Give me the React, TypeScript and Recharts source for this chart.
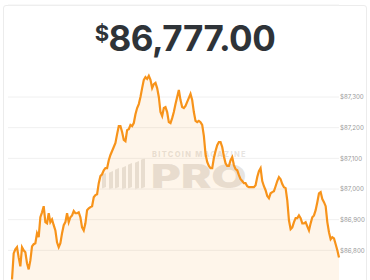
import { Area, AreaChart, CartesianGrid, XAxis, YAxis } from 'recharts'

const lastPrice = '86,777.00'
const priceTicks = [86700, 86800, 86900, 87000, 87100, 87200, 87300]

// BTC price, roughly one point every few minutes
const prices = [
  86705, 86790, 86803, 86810, 86777, 86748, 86810, 86800, 86794, 86758,
  86738, 86767, 86813, 86820, 86823, 86856, 86843, 86908, 86924, 86944,
  86892, 86888, 86921, 86892, 86901, 86882, 86865, 86826, 86810, 86823,
  86856, 86882, 86892, 86921, 86892, 86908, 86914, 86928, 86921, 86921,
  86924, 86908, 86875, 86865, 86888, 86931, 86937, 86941, 86944, 86973,
  86980, 86983, 87019,
  87042, 87048, 87061, 87068, 87068, 87094, 87111, 87124, 87137, 87150,
  87179, 87205, 87205, 87186, 87160, 87156, 87192, 87195, 87209, 87205,
  87215, 87244, 87264, 87277, 87300, 87329, 87356, 87365, 87359, 87369,
  87356, 87329, 87342, 87346, 87329, 87300, 87251, 87238, 87264, 87267,
  87251, 87218, 87215, 87231, 87251, 87277, 87300, 87323, 87290,
  87267, 87264, 87271, 87284, 87297, 87310, 87290, 87251, 87222, 87218,
  87222, 87218, 87209, 87173, 87114, 87088, 87075, 87068, 87068, 87101,
  87124, 87143, 87153, 87153, 87137, 87107, 87084, 87075, 87075, 87094,
  87104, 87078, 87065, 87061, 87045, 87032, 87026, 87019, 87019, 87009,
  87006, 87006, 87006, 87006, 87012, 87039, 87058, 87068,
  87026, 87009, 86996, 86977, 86970, 86986, 86990, 86993, 87009, 87026,
  87039, 87032, 87016, 87006, 87003, 86963, 86898, 86869, 86875, 86892,
  86905, 86905, 86914, 86905, 86888, 86888, 86892, 86878, 86865, 86888,
  86908, 86914, 86931, 86957, 86986, 86990, 86967, 86957, 86944, 86892,
  86859, 86836, 86843, 86839, 86820, 86800, 86777,
]

const data = prices.map((price, i) => ({ i, price }))

const fmt = (v: number) => '$' + v.toLocaleString('en-US')

const wm = 'rgba(170, 160, 150, 0.28)'

export default function App() {
  return (
    <div
      style={{
        position: 'fixed',
        left: 0,
        top: 0,
        width: 370,
        height: 280,
        overflow: 'hidden',
        background: '#fff',
        fontFamily: 'Inter, Arial, sans-serif',
      }}
    >
      {/* card outline */}
      <div
        style={{
          position: 'absolute',
          left: 3,
          top: 5,
          width: 362,
          height: 300,
          border: '1px solid #ececec',
          borderRadius: 3,
        }}
      />

      {/* watermark, sits under the chart */}
      <div style={{ position: 'absolute', left: 102, top: 160 }}>
        {[0, 1, 2, 3, 4, 5, 6].map((k) => (
          <div
            key={k}
            style={{
              position: 'absolute',
              left: k * 6.5,
              top: 14 - k * 2.5,
              width: 3.5,
              height: 14 + k * 2.5,
              background: wm,
              transform: 'skewY(-25deg)',
            }}
          />
        ))}
      </div>
      <div
        style={{
          position: 'absolute',
          left: 152,
          top: 151,
          fontSize: 7.5,
          lineHeight: '8px',
          fontWeight: 800,
          letterSpacing: 1.3,
          color: wm,
          whiteSpace: 'nowrap',
        }}
      >
        BITCOIN MAGAZINE
      </div>
      <div
        style={{
          position: 'absolute',
          left: 151,
          top: 164,
          fontSize: 33,
          lineHeight: '24px',
          fontWeight: 900,
          color: wm,
          transform: 'scaleX(1.38)',
          transformOrigin: 'left center',
        }}
      >
        PRO
      </div>

      <div style={{ position: 'absolute', left: 0, top: 0 }}>
        <AreaChart
          width={370}
          height={281}
          data={data}
          margin={{ top: 5, right: 0, bottom: 0, left: 8 }}
        >
          <CartesianGrid vertical={false} stroke="#f0f0f0" />
          <XAxis dataKey="i" hide padding={{ left: 4, right: 0 }} />
          <YAxis
            orientation="right"
            width={31}
            domain={[86700, 87600]}
            ticks={priceTicks}
            tickFormatter={fmt}
            axisLine={false}
            tickLine={false}
            tickSize={0}
            tickMargin={1}
            tick={{ fill: '#9a9a9a', fontSize: 6.2 }}
          />
          <Area
            type="linear"
            dataKey="price"
            stroke="#f7931a"
            strokeWidth={2.2}
            fill="#f7931a"
            fillOpacity={0.09}
            isAnimationActive={false}
            dot={false}
          />
        </AreaChart>
      </div>

      {/* current price */}
      <div
        style={{
          position: 'absolute',
          left: 0,
          width: 370,
          top: 11,
          textAlign: 'center',
          color: '#2e3338',
          fontWeight: 700,
          fontSize: 35,
          lineHeight: '44px',
          letterSpacing: -0.5,
        }}
      >
        <span style={{ fontSize: 22, verticalAlign: 10 }}>$</span>
        {lastPrice}
      </div>
    </div>
  )
}
